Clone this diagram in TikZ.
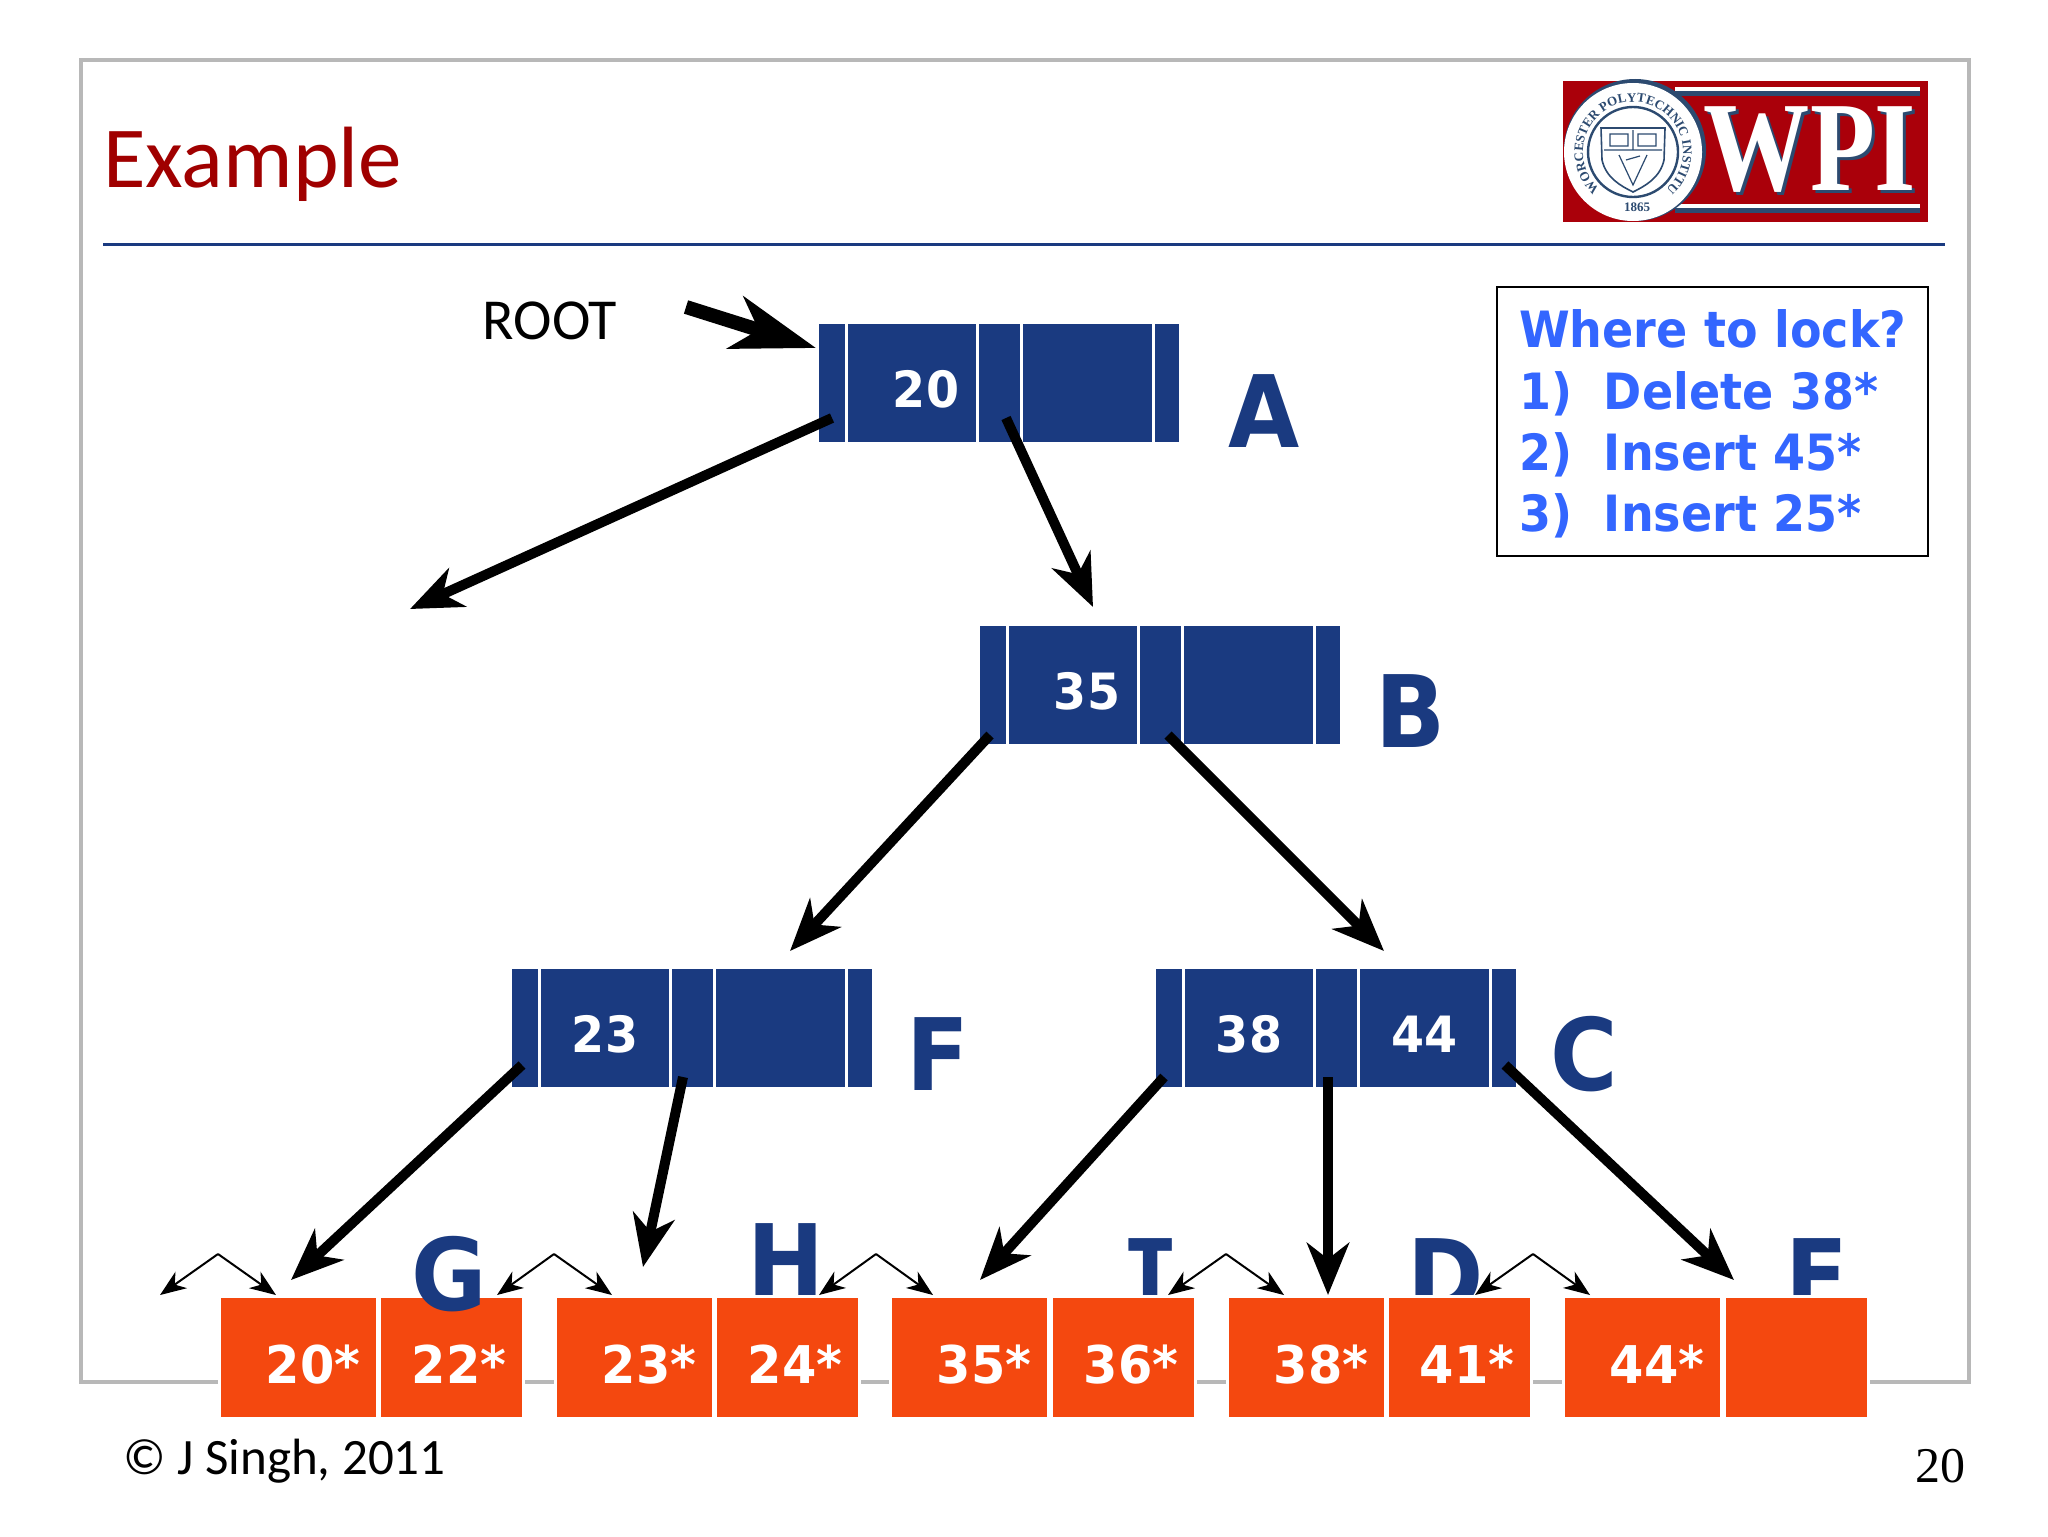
\documentclass[tikz,border=0pt]{standalone}
\usepackage{fontspec}
\usetikzlibrary{arrows.meta, positioning, decorations.text}
\setmainfont{Carlito}
\newfontfamily\boldfnt[FakeStretch=.92]{DejaVu Sans}
\newfontfamily\numfnt[FakeStretch=.95]{DejaVu Sans}
\newfontfamily\monofnt{DejaVu Sans Mono}
\newfontfamily\serfnt{Liberation Serif}
\definecolor{azul}{RGB}{26, 58, 128}
\definecolor{laranja}{RGB}{244, 72, 15}
\definecolor{vinho}{RGB}{160, 0, 0}
\definecolor{quadro}{RGB}{184, 184, 184}
\definecolor{pergunta}{RGB}{51, 102, 255}
\definecolor{brasao}{RGB}{170, 0, 10}
\definecolor{sombra}{RGB}{44, 74, 112}
\tikzset{
  cell/.style={
    fill=azul, inner sep=0pt, outer sep=0pt, minimum height=59pt,
    text=white, text height=24pt, text depth=0pt,
    font=\numfnt\bfseries\fontsize{25}{30}\selectfont
  },
  ptrcell/.style={cell, minimum width=13pt},
  keycell/.style={cell, minimum width=64pt},
  midcell/.style={cell, minimum width=20.5pt},
  lastkey/.style={cell, minimum width=64.5pt},
  endcell/.style={cell, minimum width=12pt},
  leaf/.style={
    draw=white, line width=1.5pt, fill=laranja, inner sep=0pt, outer sep=0pt,
    minimum height=61pt, text=white, text height=25.5pt, text depth=0pt,
    font=\numfnt\bfseries\fontsize{26}{30}\selectfont
  },
  leafA/.style={leaf, minimum width=79pt},
  leafB/.style={leaf, minimum width=72pt},
  letra/.style={
    anchor=base, text=azul, inner sep=0pt,
    font=\boldfnt\bfseries\fontsize{50}{55}\selectfont
  },
  seta/.style={-{Stealth[length=26pt,width=21pt,inset=8pt]}, line width=5pt},
  setaroot/.style={-{Stealth[length=42pt,width=27pt,inset=12pt]}, line width=7pt},
  elo/.style={-{Stealth[length=13pt,width=10pt,inset=4pt]}, line width=1pt},
}
\begin{document}
\begin{tikzpicture}[x=.5pt, y=-.5pt]

\fill[white] (0,0) rectangle (2048,1536);
\draw[quadro, line width=1.75pt] (81,60) rectangle (1969,1382);
\draw[azul, line width=1.5pt] (103,244) -- (1945,244);

\node[anchor=base west, inner sep=0pt, text=vinho, font=\fontsize{43.5}{48}\selectfont]
  (titulo) at (103,187) {Example};

% logo
\fill[brasao] (1563,81) rectangle (1928,222);
\fill[sombra] (1675,91) rectangle (1920,96);
\fill[white] (1675,87) rectangle (1920,91);
\fill[white] (1675,204) rectangle (1920,208);
\fill[sombra] (1675,208) rectangle (1920,213);
\node[anchor=base, inner sep=0pt, text=sombra, xscale=.83, transform shape,
  font=\serfnt\bfseries\fontsize{64}{70}\selectfont] (wpisombra) at (1813,193) {WPI};
\node[anchor=base, inner sep=0pt, text=white, xscale=.83, transform shape,
  font=\serfnt\bfseries\fontsize{64}{70}\selectfont] (wpi) at (1810,190) {WPI};
\coordinate (selo) at (1633,152);
\fill[sombra] ([shift={(1pt,1pt)}]selo) circle[radius=35.5pt];
\fill[white] (selo) circle[radius=34.5pt];
\draw[sombra, line width=1.2pt] (selo) circle[radius=22.5pt];
\path[decorate, decoration={text along path, text align={fit to path},
  text={|\serfnt\bfseries\fontsize{6.5}{7}\selectfont\color{sombra}|WORCESTER POLYTECHNIC INSTITUTE}}]
  ([shift={(228:25pt)}]selo) arc[start angle=228, end angle=-48, radius=25pt];
\node[inner sep=0pt, text=sombra, font=\serfnt\bfseries\fontsize{6.5}{7}\selectfont] (ano) at (1637,207) {1865};
\draw[sombra, line width=.8pt, fill=white] (1601,128) -- (1665,128) -- (1664,160)
  .. controls (1660,178) and (1645,186) .. (1633,192)
  .. controls (1621,186) and (1606,178) .. (1602,160) -- cycle;
\draw[sombra, line width=.6pt] (1604,150) -- (1662,150) (1633,130) -- (1633,150)
  (1610,134) -- (1610,146) -- (1628,146) -- (1628,134) -- cycle
  (1638,134) -- (1638,146) -- (1656,146) -- (1656,134) -- cycle
  (1619,155) -- (1633,185) -- (1647,155) (1626,160) -- (1640,156);

% caixa da pergunta
\node[draw, line width=1.25pt, inner xsep=11pt, inner ysep=0pt, text width=193.5pt,
  minimum height=134.5pt, align=left, text=pergunta,
  font=\boldfnt\bfseries\fontsize{25}{30.7}\selectfont] (pergunta) at (1712.5,421.5)
{\rule{0pt}{21.6pt}\mbox{Where to lock?}\\
\makebox[42.5pt][l]{1)}Delete 38*\\
\makebox[42.5pt][l]{2)}Insert 45*\\
\makebox[42.5pt][l]{3)}Insert 25*};

\node[inner sep=0pt, font=\fontsize{29}{32}\selectfont] (root) at (550,321) {ROOT};
\coordinate (rootini) at (686,307);
\coordinate (perdido) at (410,609);

% no A
\node[ptrcell, anchor=north west] (a0) at (819,324) {};
\node[keycell, right=1.5pt of a0] (a1) {\hspace*{14pt}20};
\node[midcell, right=1.5pt of a1] (a2) {};
\node[lastkey, right=1.5pt of a2] (a3) {};
\node[endcell, right=1.5pt of a3] (a4) {};
% no B
\node[ptrcell, anchor=north west] (b0) at (980,626) {};
\node[keycell, right=1.5pt of b0] (b1) {\hspace*{14pt}35};
\node[midcell, right=1.5pt of b1] (b2) {};
\node[lastkey, right=1.5pt of b2] (b3) {};
\node[endcell, right=1.5pt of b3] (b4) {};
% no F
\node[ptrcell, anchor=north west] (f0) at (512,969) {};
\node[keycell, right=1.5pt of f0] (f1) {23};
\node[midcell, right=1.5pt of f1] (f2) {};
\node[lastkey, right=1.5pt of f2] (f3) {};
\node[endcell, right=1.5pt of f3] (f4) {};
% no C
\node[ptrcell, anchor=north west] (c0) at (1156,969) {};
\node[keycell, right=1.5pt of c0] (c1) {38};
\node[midcell, right=1.5pt of c1] (c2) {};
\node[lastkey, right=1.5pt of c2] (c3) {44};
\node[endcell, right=1.5pt of c3] (c4) {};

\node[letra] (la) at (1264,447) {A};
\node[letra] (lb) at (1411,747) {B};
\node[letra] (lf) at (938,1090) {F};
\node[letra] (lc) at (1584,1090) {C};
\node[letra] (lh) at (786,1296) {H};
\node[letra, font=\monofnt\bfseries\fontsize{50}{55}\selectfont] (li) at (1151,1311) {I};
\node[letra] (ld) at (1446,1311) {D};
\node[letra] (le) at (1817,1311) {E};

% folhas
\node[leafA] (l20) at (298.5,1357.5) {\hspace*{14.5pt}20*};
\node[leafB] (l22) at (451.5,1357.5) {\hspace*{7.5pt}22*};
\node[leafA] (l23) at (634.5,1357.5) {\hspace*{14.5pt}23*};
\node[leafB] (l24) at (787.5,1357.5) {\hspace*{7.5pt}24*};
\node[leafA] (l35) at (969.5,1357.5) {\hspace*{14.5pt}35*};
\node[leafB] (l36) at (1123.5,1357.5) {\hspace*{7.5pt}36*};
\node[leafA] (l38) at (1306.5,1357.5) {\hspace*{14.5pt}38*};
\node[leafB] (l41) at (1459.5,1357.5) {\hspace*{7.5pt}41*};
\node[leafA] (l44) at (1642.5,1357.5) {\hspace*{14.5pt}44*};
\node[leafB] (lvazia) at (1796,1357.5) {};

\node[letra] (lg) at (449,1310) {G};

\draw[setaroot] (rootini) -- ([shift={(-1.5pt,-12pt)}]a0.north west);
\draw[seta] ([yshift=12pt]a0.south) -- (perdido);
\draw[seta] ([shift={(3.25pt,12pt)}]a2.south) -- ([shift={(10pt,9.5pt)}]b1.north);
\draw[seta] ([shift={(-1.5pt,4.5pt)}]b0.south) -- ([shift={(4.75pt,9pt)}]f3.north);
\draw[seta] ([shift={(3.75pt,4.5pt)}]b2.south) -- ([shift={(-20.25pt,9pt)}]c3.north);
\draw[seta] ([shift={(-1.5pt,11pt)}]f0.south) -- ([shift={(-3.75pt,8.25pt)}]l20.north);
\draw[seta] ([shift={(-4.75pt,5pt)}]f2.south) -- ([shift={(4.25pt,14.75pt)}]l23.north);
\draw[seta] ([shift={(-2.5pt,5pt)}]c0.south) -- ([shift={(5.25pt,8.25pt)}]l35.north);
\draw[seta] ([shift={(-4.25pt,5pt)}]c2.south) -- ([shift={(10.75pt,.75pt)}]l38.north);
\draw[seta] ([shift={(.5pt,11pt)}]c4.south) -- ([shift={(-31pt,8.25pt)}]lvazia.north);

% elos entre folhas
\coordinate (e1) at (218,1254);
\coordinate (e2) at (554,1254);
\coordinate (e3) at (876,1254);
\coordinate (e4) at (1226,1254);
\coordinate (e5) at (1533,1254);
\draw[elo] (e1) -- (160,1295);
\draw[elo] (e1) -- (276,1295);
\draw[elo] (e2) -- (497,1295);
\draw[elo] (e2) -- (612,1295);
\draw[elo] (e3) -- (819,1295);
\draw[elo] (e3) -- (933,1295);
\draw[elo] (e4) -- (1168,1295);
\draw[elo] (e4) -- (1284,1295);
\draw[elo] (e5) -- (1475,1295);
\draw[elo] (e5) -- (1590,1295);

\node[anchor=base west, inner sep=0pt, font=\fontsize{25.5}{28}\selectfont] (autoria) at (123,1474) {© J Singh, 2011};
\node[anchor=base east, inner sep=0pt, font=\serfnt\fontsize{25}{28}\selectfont] (pagina) at (1966,1482) {20};

\end{tikzpicture}
\end{document}
